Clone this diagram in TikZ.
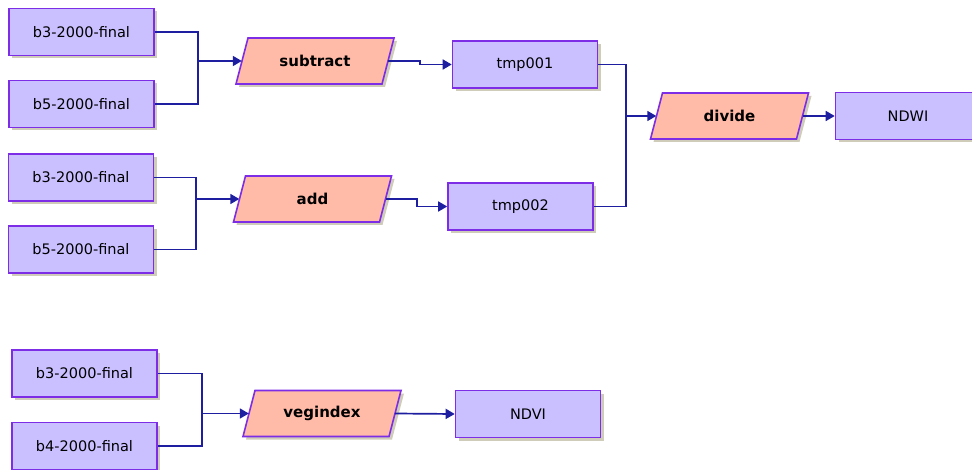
\documentclass[tikz,border=0pt]{standalone}
\usepackage{fontspec}
\setmainfont{DejaVu Sans}
\usetikzlibrary{shadows,arrows.meta}
\definecolor{boxfill}{RGB}{202,192,255}
\definecolor{boxdraw}{RGB}{125,45,230}
\definecolor{opfill}{RGB}{255,186,168}
\definecolor{linecol}{RGB}{30,30,160}
\definecolor{shadowcol}{RGB}{208,204,186}
\newcommand{\opnode}[3]{%
  \filldraw[opshape] (#2) ++(-67,-23) -- ++(146,0) -- ++(-12,46) -- ++(-146,0) -- cycle;
  \node[optext] (#1) at (#2) {#3};}
\begin{document}
\begin{tikzpicture}[x=1pt,y=-1pt,
  databox/.style={rectangle, draw=boxdraw, fill=boxfill, line width=1.6pt,
    minimum width=145pt, minimum height=47pt, inner sep=0pt,
    font=\fontsize{14.5}{16}\selectfont,
    drop shadow={shadow xshift=3pt, shadow yshift=-3pt, fill=shadowcol, opacity=1}},
  opshape/.style={draw=boxdraw, fill=opfill, line width=1.6pt,
    drop shadow={shadow xshift=3pt, shadow yshift=-3pt, fill=shadowcol, opacity=1}},
  optext/.style={rectangle, minimum width=146pt, minimum height=46pt, inner sep=0pt,
    font=\bfseries\fontsize{15}{17}\selectfont},
  conn/.style={draw=linecol, line width=1.7pt},
  arr/.style={conn, -{Triangle[length=9pt,width=10pt]}}
]
\useasboundingbox (0,0) rectangle (972,470);
\fill[white] (0,0) rectangle (972,470);
\begin{scope}
\clip (0,0) rectangle (972,470);
\node[databox] (b3a) at (81.5,32) {b3-2000-final};
\node[databox] (b5a) at (81.5,104) {b5-2000-final};
\node[databox] (b3b) at (81,177.5) {b3-2000-final};
\node[databox] (b5b) at (81,249.5) {b5-2000-final};
\node[databox] (b3c) at (84.5,373.5) {b3-2000-final};
\node[databox] (b4c) at (84.5,446) {b4-2000-final};
\opnode{sub}{315,61}{subtract}
\opnode{add}{312.5,199}{add}
\opnode{div}{729.5,116}{divide}
\opnode{veg}{322,413.5}{vegindex}
\node[databox] (t1) at (525,64.5) {tmp001};
\node[databox] (t2) at (520.5,206.5) {tmp002};
\node[databox] (ndwi) at (908,116) {NDWI};
\node[databox] (ndvi) at (528,414) {NDVI};

\coordinate (j1) at (198,61);
\coordinate (k1) at (420,64.5);
\coordinate (j2) at (196,199);
\coordinate (k2) at (417,206.5);
\coordinate (j3) at (626,116);
\coordinate (j4) at (202,413.5);

\draw[conn] (b3a.east) -| (j1);
\draw[conn] (b5a.east) -| (j1);
\draw[arr] (j1) -- (sub.west);
\draw[arr] (sub.east) -| (k1) -- (t1.west);

\draw[conn] (b3b.east) -| (j2);
\draw[conn] (b5b.east) -| (j2);
\draw[arr] (j2) -- (add.west);
\draw[arr] (add.east) -| (k2) -- (t2.west);

\draw[conn] (t1.east) -| (j3);
\draw[conn] (t2.east) -| (j3);
\draw[arr] (j3) -- (div.west);
\draw[arr] (div.east) -- (ndwi.west);

\draw[conn] (b3c.east) -| (j4);
\draw[conn] (b4c.east) -| (j4);
\draw[arr] (j4) -- (veg.west);
\draw[arr] (veg.east) -- (ndvi.west);
\end{scope}
\end{tikzpicture}
\end{document}
